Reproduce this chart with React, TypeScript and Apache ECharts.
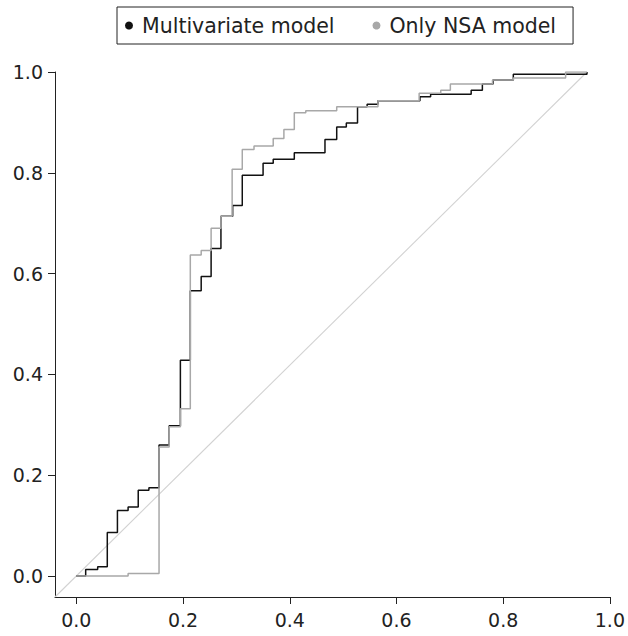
import React, { useEffect, useRef } from "react";
import * as echarts from "echarts";

// ROC step vertices [1 - specificity, sensitivity]
const multivariateX = [0, 0.0175, 0.04, 0.058, 0.077, 0.097, 0.116, 0.136, 0.155, 0.174, 0.195, 0.2136, 0.234, 0.2526, 0.271, 0.293, 0.311, 0.35, 0.369, 0.4085, 0.466, 0.488, 0.506, 0.527, 0.545, 0.5653, 0.644, 0.664, 0.74, 0.761, 0.781, 0.819, 0.957];
const multivariateY = [0, 0.013, 0.018, 0.086, 0.13, 0.137, 0.17, 0.175, 0.26, 0.298, 0.428, 0.566, 0.594, 0.65, 0.714, 0.735, 0.795, 0.819, 0.827, 0.84, 0.866, 0.891, 0.899, 0.931, 0.936, 0.943, 0.951, 0.956, 0.964, 0.976, 0.984, 0.9955, 1.0];

const nsaX = [0, 0.097, 0.155, 0.174, 0.195, 0.2136, 0.234, 0.2526, 0.271, 0.292, 0.311, 0.333, 0.369, 0.389, 0.4085, 0.43, 0.488, 0.5653, 0.6425, 0.683, 0.701, 0.78, 0.819, 0.917, 0.957];
const nsaY = [0, 0.005, 0.256, 0.296, 0.332, 0.637, 0.646, 0.69, 0.714, 0.807, 0.846, 0.853, 0.868, 0.886, 0.919, 0.923, 0.931, 0.943, 0.958, 0.964, 0.976, 0.984, 0.988, 1.0, 1.0];

const diagonalX = [-0.04, 0.957];
const diagonalY = [-0.0418, 1.0];

const tickValues = [0, 0.2, 0.4, 0.6, 0.8, 1.0];
const seriesNames = ["Multivariate model", "Only NSA model"];

const zip = (xs: number[], ys: number[]) => xs.map((x, i) => [x, ys[i]]);

export default function App() {
  const ref = useRef<HTMLDivElement>(null);
  useEffect(() => {
    document.body.style.margin = "0";
    const chart = echarts.init(ref.current!, null, { renderer: "svg" });
    const font = "DejaVu Sans";
    const axisCommon = {
      type: "value" as const,
      max: 1.0,
      splitLine: { show: false },
      axisLine: { show: true, onZero: false, lineStyle: { color: "#222", width: 1 } },
      axisTick: { show: true, inside: false, length: 7, customValues: tickValues, lineStyle: { color: "#222", width: 1 } },
    };
    chart.setOption({
      animation: false,
      backgroundColor: "#fff",
      grid: { left: 55, right: 12, top: 72, bottom: 39 },
      legend: {
        data: seriesNames,
        left: 117,
        top: 7,
        icon: "circle",
        itemWidth: 16,
        itemHeight: 8,
        itemGap: 38,
        padding: [8, 17, 8, 8],
        borderColor: "#222",
        borderWidth: 1,
        textStyle: { fontFamily: font, fontSize: 20.5, color: "#222" },
      },
      xAxis: {
        ...axisCommon,
        min: -0.04,
        axisLabel: {
          customValues: tickValues,
          formatter: (v: number) => v.toFixed(1),
          fontFamily: font,
          fontSize: 19,
          color: "#222",
          margin: 13,
        },
      },
      yAxis: {
        ...axisCommon,
        min: -0.0418,
        axisLabel: {
          customValues: tickValues,
          formatter: (v: number) => v.toFixed(1),
          fontFamily: font,
          fontSize: 19,
          color: "#222",
          margin: 12,
        },
      },
      series: [
        {
          name: "diagonal",
          type: "line",
          data: zip(diagonalX, diagonalY),
          showSymbol: false,
          silent: true,
          lineStyle: { color: "#d2d2d2", width: 1.1 },
          z: 1,
        },
        {
          name: seriesNames[0],
          type: "line",
          step: "end",
          data: zip(multivariateX, multivariateY),
          showSymbol: false,
          itemStyle: { color: "#111" },
          lineStyle: { color: "#111", width: 1.5 },
          z: 2,
        },
        {
          name: seriesNames[1],
          type: "line",
          step: "end",
          data: zip(nsaX, nsaY),
          showSymbol: false,
          itemStyle: { color: "#a8a8a8" },
          lineStyle: { color: "#a8a8a8", width: 1.5 },
          z: 3,
        },
      ],
    });
    return () => chart.dispose();
  }, []);
  return <div ref={ref} style={{ width: 628, height: 636 }} />;
}
